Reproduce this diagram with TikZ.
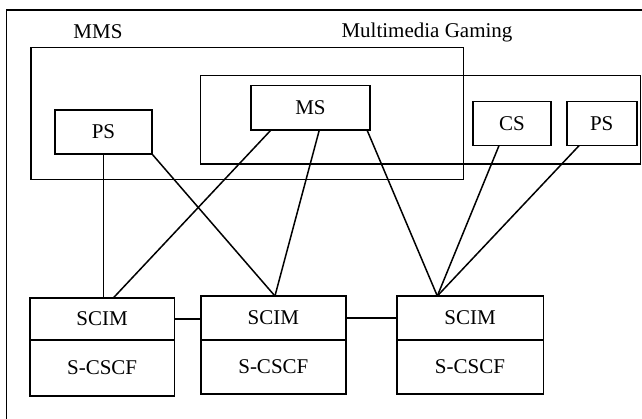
\documentclass[tikz,border=0pt]{standalone}
\usepackage{fontspec}
\setmainfont{Liberation Serif}
\usetikzlibrary{calc}
\begin{document}
\begin{tikzpicture}[x=1pt,y=-1pt,line width=1.6pt,
  lbl/.style={inner sep=0pt,font=\fontsize{21}{25}\selectfont},
  box/.style={lbl,draw,outer sep=0pt},
  link/.style={line width=1.5pt}]
\useasboundingbox (0,0) rectangle (642,419);

% outer frame (open to the right and bottom)
\draw (6.5,419) -- (6.5,10) -- (642,10);

% service groups
\node[lbl] (mmslbl) at (98,32) {MMS};
\node[lbl] (gamelbl) at (427,32) {Multimedia Gaming};
\node[box,minimum width=432.3pt,minimum height=131.8pt] (mms) at (247.15,113.6) {};
\node[box,minimum width=440pt,minimum height=88.3pt] (game) at (420.5,119.85) {};

% servers
\node[box,minimum width=97pt,minimum height=44pt] (ps1) at (103.5,132) {PS};
\node[box,minimum width=119pt,minimum height=44.3pt] (ms) at (310.5,107.85) {MS};
\node[box,minimum width=78pt,minimum height=44pt] (cs) at (512,123.7) {CS};
\node[box,minimum width=70pt,minimum height=44pt] (ps2) at (601.7,123.7) {PS};

% SCIM / S-CSCF stacks
\node[box,minimum width=144.3pt,minimum height=42pt] (scim1) at (102.15,319) {SCIM};
\node[box,minimum width=144.3pt,minimum height=56pt] (cscf1) at (102.15,368) {S-CSCF};
\node[box,minimum width=144.7pt,minimum height=44pt] (scim2) at (273.35,318) {SCIM};
\node[box,minimum width=144.7pt,minimum height=54pt] (cscf2) at (273.35,367) {S-CSCF};
\node[box,minimum width=146.6pt,minimum height=44pt] (scim3) at (470,318) {SCIM};
\node[box,minimum width=146.6pt,minimum height=54pt] (cscf3) at (470,367) {S-CSCF};

% attachment points on the SCIM tops
\coordinate (t1a) at (scim1.north);
\coordinate (t1b) at ($(scim1.north west)!0.577!(scim1.north east)$);
\coordinate (t2) at ($(scim2.north west)!0.511!(scim2.north east)$);
\coordinate (t3) at ($(scim3.north west)!0.277!(scim3.north east)$);

% links
\draw[link] (ps1.south) -- (ps1.south |- t1a);
\draw[link] (ps1.south east) -- (t2);
\draw[link] ($(ms.south west)!0.168!(ms.south east)$) -- (t1b);
\draw[link] ($(ms.south west)!0.574!(ms.south east)$) -- (t2);
\draw[link] ($(ms.south west)!0.975!(ms.south east)$) -- (t3);
\draw[link] ($(cs.south west)!0.333!(cs.south east)$) -- (t3);
\draw[link] ($(ps2.south west)!0.176!(ps2.south east)$) -- (t3);
\draw[link] (scim1.east) -- (scim2.west |- scim1.east);
\draw[link] (scim2.east) -- (scim3.west);
\end{tikzpicture}
\end{document}
